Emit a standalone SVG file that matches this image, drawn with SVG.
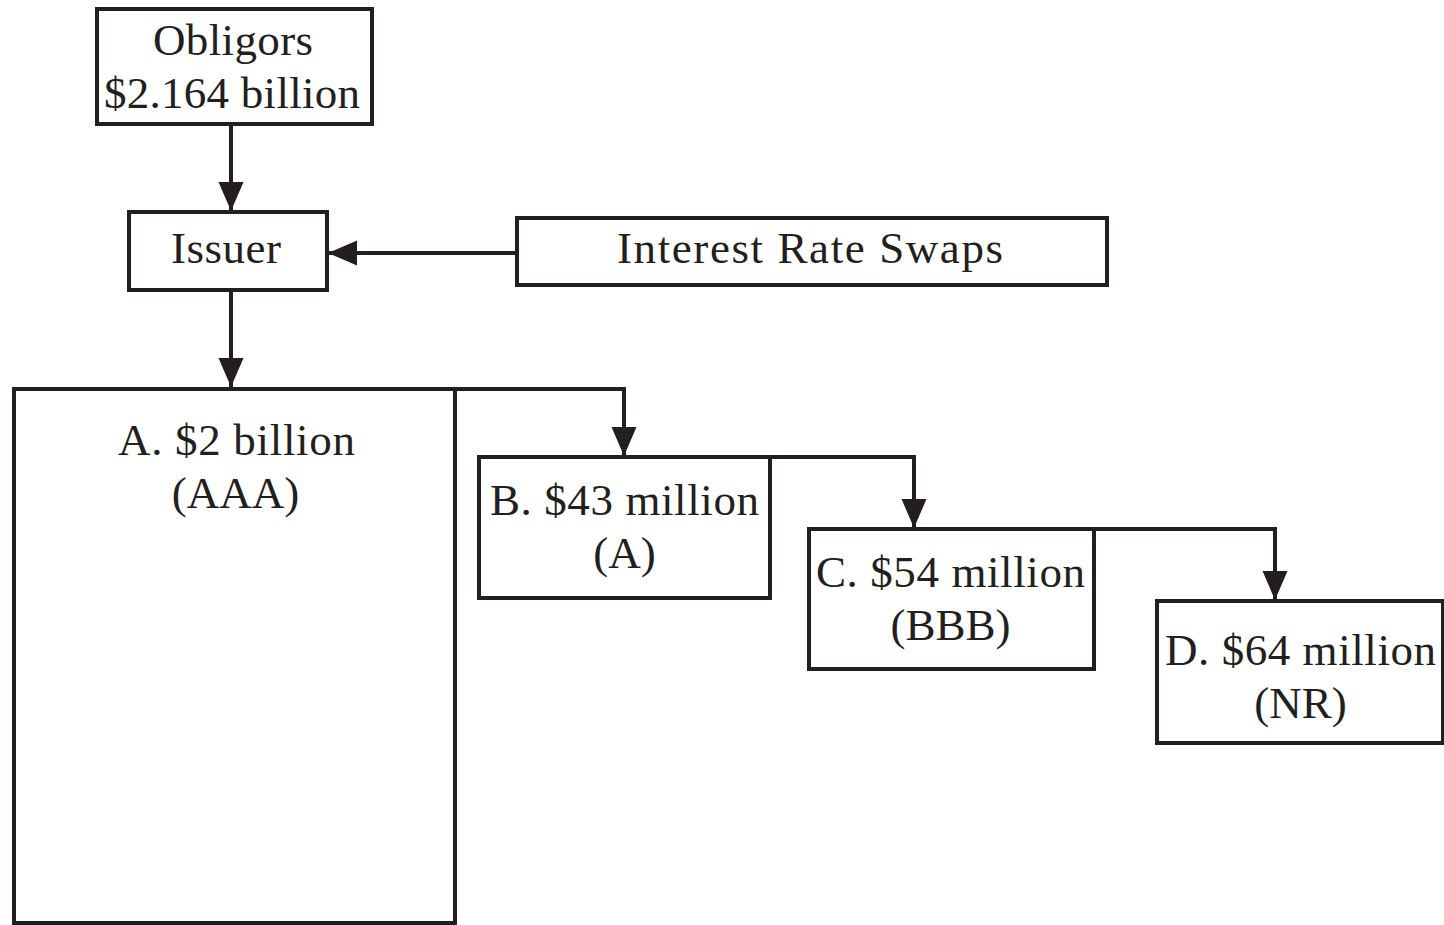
<svg xmlns="http://www.w3.org/2000/svg" width="1444" height="925" viewBox="0 0 1444 925">
<style>
.box{fill:#fff;stroke:#231f20;stroke-width:4}
.t{font-family:"Liberation Serif","Times New Roman",serif;font-size:45px;fill:#231f20;text-anchor:middle}
.c{fill:none;stroke:#231f20;stroke-width:4}
</style>
<defs>
<marker id="ah" markerUnits="userSpaceOnUse" markerWidth="30" markerHeight="26" refX="29" refY="12.5" orient="auto" viewBox="0 0 30 26">
<path d="M0,0 L29,12.5 L0,25 z" fill="#231f20"/>
</marker>
</defs>
<rect width="1444" height="925" fill="#fff"/>
<g id="obligors">
<rect class="box" x="97" y="9" width="275" height="115"/>
<text class="t" x="233" y="55" textLength="160" lengthAdjust="spacing">Obligors</text>
<text class="t" x="232" y="108" textLength="256" lengthAdjust="spacing">$2.164 billion</text>
</g>
<g id="issuer">
<rect class="box" x="129" y="212" width="198" height="78"/>
<text class="t" x="226" y="263" textLength="110" lengthAdjust="spacing">Issuer</text>
</g>
<g id="swaps">
<rect class="box" x="517" y="218" width="590" height="67"/>
<text class="t" x="810" y="263" textLength="386" lengthAdjust="spacing">Interest Rate Swaps</text>
</g>
<g id="trancheA">
<rect class="box" x="14" y="389" width="441" height="534"/>
<text class="t" x="236.5" y="455" textLength="237" lengthAdjust="spacing">A. $2 billion</text>
<text class="t" x="235.5" y="508">(AAA)</text>
</g>
<g id="trancheB">
<rect class="box" x="479" y="457" width="291" height="141"/>
<text class="t" x="624.5" y="515" textLength="269" lengthAdjust="spacing">B. $43 million</text>
<text class="t" x="624.5" y="568">(A)</text>
</g>
<g id="trancheC">
<rect class="box" x="809" y="529" width="285" height="140"/>
<text class="t" x="950.5" y="587" textLength="269" lengthAdjust="spacing">C. $54 million</text>
<text class="t" x="950.5" y="640">(BBB)</text>
</g>
<g id="trancheD">
<rect class="box" x="1157" y="601" width="286" height="142"/>
<text class="t" x="1300.5" y="665" textLength="271" lengthAdjust="spacing">D. $64 million</text>
<text class="t" x="1300.5" y="718">(NR)</text>
</g>
<g id="connectors">
<path class="c" d="M231,124 V211" marker-end="url(#ah)"/>
<path class="c" d="M517,253 H328" marker-end="url(#ah)"/>
<path class="c" d="M231,290 V387" marker-end="url(#ah)"/>
<path class="c" d="M455,389 H624 V456" marker-end="url(#ah)"/>
<path class="c" d="M770,457 H914 V528" marker-end="url(#ah)"/>
<path class="c" d="M1094,529 H1275 V600" marker-end="url(#ah)"/>
</g>
</svg>
